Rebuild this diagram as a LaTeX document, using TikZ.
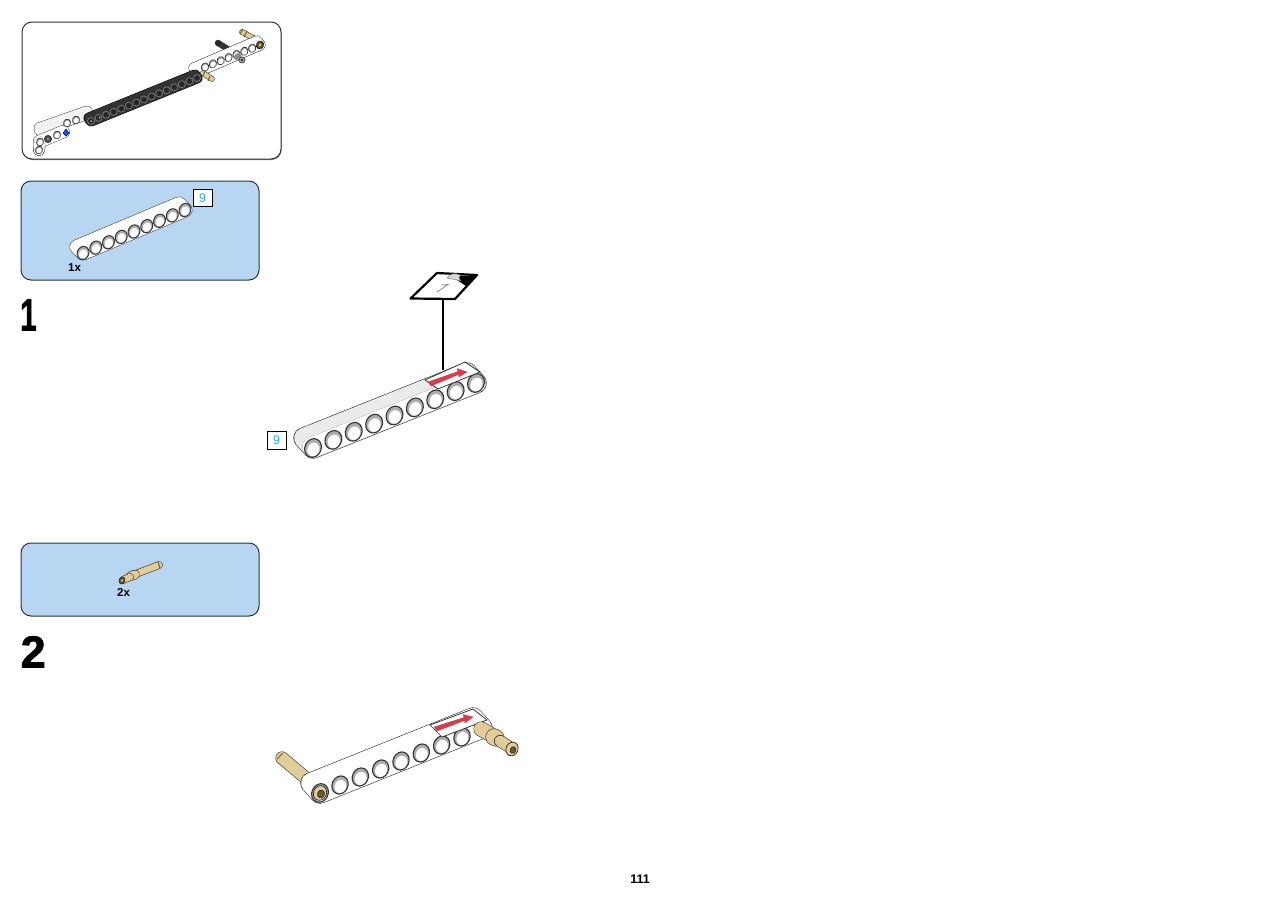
\documentclass[tikz,border=0pt]{standalone}
\usepackage{fontspec}
\setmainfont{Liberation Sans}
\newfontfamily\heavyfont[UprightFont=* Bold,FakeBold=1.5]{Liberation Sans}
\usetikzlibrary{calc}
\definecolor{panelblue}{HTML}{B8D6F2}
\definecolor{bordercol}{HTML}{2B3440}
\definecolor{cyantext}{HTML}{29ABE2}
\definecolor{tanpin}{HTML}{E2CC98}
\definecolor{tandark}{HTML}{6E5A2E}
\definecolor{redarrow}{HTML}{F03242}
\tikzset{
  panel/.style={rounded corners=10pt,draw=bordercol,line width=1pt},
  stepnum/.style={font=\fontsize{45}{45}\heavyfont,inner sep=0pt,anchor=base west},
  countlabel/.style={font=\fontsize{11.5}{11.5}\selectfont\bfseries,inner sep=0pt},
  lenbox/.style={draw=black,line width=.9pt,fill=white,minimum width=19pt,minimum height=17.5pt,inner sep=0pt,text=cyantext,font=\fontsize{12.5}{12.5}\selectfont},
}
% hull of a beam: ax ay bx by dx dy r face edge width
\newcommand{\beamhull}[9]{%
  \pgfmathsetmacro{\lwo}{2*#7+#9}\pgfmathsetmacro{\lwi}{2*#7}%
  \draw[draw=black!85,fill=black!85,line width=\lwo pt,line join=round] (#1,#2) -- (#3,#4) -- ({#3+#5},{#4+#6}) -- ({#1+#5},{#2+#6}) -- cycle;
  \draw[draw=#8,fill=#8,line width=\lwi pt,line join=round] (#1,#2) -- (#3,#4) -- ({#3+#5},{#4+#6}) -- ({#1+#5},{#2+#6}) -- cycle;
}
% round hole: x y r ring-line
\newcommand{\hole}[4]{%
  \begin{scope}[shift={(#1,#2)},rotate=-25]
    \draw[draw=black!80,fill=black!32,line width=#4pt] (0,0) ellipse [x radius=#3*.85,y radius=#3];
    \fill[white] (#3*.1,#3*.12) ellipse [x radius=#3*.62,y radius=#3*.72];
  \end{scope}}
% row of holes: ax ay bx by n r ring-line
\newcommand{\holerow}[7]{%
  \foreach \i in {1,...,#5}{%
    \pgfmathsetmacro{\hx}{#1+(#3-#1)*(\i-1)/(#5-1)}%
    \pgfmathsetmacro{\hy}{#2+(#4-#2)*(\i-1)/(#5-1)}%
    \hole{\hx}{\hy}{#6}{#7}}}
% tan cylinder segment: ax ay bx by width
\newcommand{\cyl}[5]{%
  \draw[black!85,line width=#5pt+1.1pt,line cap=round] (#1,#2) -- (#3,#4);
  \draw[tanpin,line width=#5pt,line cap=round] (#1,#2) -- (#3,#4);}
% rotated ellipse: x y rx ry angle fill
\newcommand{\rell}[6]{%
  \draw[black!85,line width=.7pt,fill=#6,rotate around={#5:(#1,#2)}] (#1,#2) ellipse [x radius=#3,y radius=#4];}
\begin{document}
\begin{tikzpicture}[x=1pt,y=-1pt]
\useasboundingbox (0,0) rectangle (1280,905);
\fill[white] (0,0) rectangle (1280,905);

% ---- overview panel
\fill[black!50,rounded corners=10pt] (22.5,24) rectangle (281.5,160);
\draw[panel,fill=white] (22,22) rectangle (281,159);
% axle, pin behind top-right beam
\draw[black!80,line width=6pt] (218,43) -- (236,54);
\fill[black!85] (218,43) circle (3.2);
\cyl{242}{32}{257}{40}{4.5}
\draw[tandark,line width=1pt] (243,29) -- (240,34) (247,31) -- (244,37);
% top-right white beam
\beamhull{197}{72}{260}{45}{-3}{-4}{5}{white}{1}
\holerow{205}{67}{260}{45}{8}{4.2}{.7}
\rell{260}{45}{3}{3.8}{-25}{tandark}
\fill[tanpin] (260,45) circle (1.4);
\fill[black!45] (238,57) circle (3.8);
\draw[black!70,fill=black!35,line width=.8pt] (242,60) circle (3);
\draw[black!80,fill=black!60] (242,60) circle (1);
% back left beam
\beamhull{40}{131}{88}{114}{-1}{-3}{5}{white!95!black}{.8}
% front left beam
\beamhull{40}{142}{39}{150}{0}{0}{5.5}{white}{.8}
\beamhull{40}{142}{64}{132}{-1}{-1}{5.5}{white}{.8}
\beamhull{39}{147}{40}{142}{0}{0}{5.5}{white}{0}
\hole{67}{123}{4}{.7}
\hole{76}{120}{4}{.7}
\hole{40}{142}{4}{.7}
\hole{39}{150}{4}{.7}
\draw[black!80,fill=black!70,line width=.7pt] (48,139) circle (3.6);
\fill[black!25] (48,139) circle (1);
\hole{57}{135}{4}{.7}
\draw[blue!60!black,fill=blue!65!cyan,line width=.5pt] (63,133) -- (66,129) -- (69,133) -- (66,136) -- cycle;
% dark beam
\draw[black,fill=black,line join=round,line width=11pt] (91,121) -- (197,78) -- (195,75) -- (89,118) -- cycle;
\draw[black!80,fill=black!80,line join=round,line width=10pt] (91,121) -- (197,78) -- (195,75) -- (89,118) -- cycle;
\foreach \i in {1,...,15}{%
  \pgfmathsetmacro{\hx}{91+106*(\i-1)/14}\pgfmathsetmacro{\hy}{121-43*(\i-1)/14}
  \draw[black!50,fill=black!85,line width=.7pt] (\hx,\hy) circle (3.5);}
\fill[white!70!black] (91,121) circle (1);
\fill[white!70!black] (99.5,117.5) circle (1);
\cyl{203}{73}{212}{79}{4.5}
\draw[tandark,line width=1pt] (205,71) -- (203,76) (210,76) -- (208,81);

% ---- parts panel 1
\draw[panel,fill=panelblue] (21,181) rectangle (259,280);
\beamhull{83}{253}{185}{210}{-6}{-6}{7}{white}{.9}
\holerow{83}{253}{185}{210}{9}{6.8}{1}
\node[lenbox] (lenpanel) at (202.5,198) {9};
\node[countlabel,anchor=base west] (countone) at (68,271) {1x};
\node[stepnum,xscale=.66] (stepone) at (20,330.5) {1};

% ---- step 1 assembly
\beamhull{313}{448}{476}{383}{-9}{-10}{10}{white!92!black}{1.1}
\beamhull{313}{448}{476}{383}{-1}{-1}{9.8}{white}{0}
\holerow{313}{448}{476}{383}{9}{9.6}{1.1}
\node[lenbox] (lenstep) at (276.5,440.5) {9};
\coordinate (calloutfoot) at (443,299);
\coordinate (beamtop) at (443,370);
\draw[black,line width=1.2pt] (calloutfoot) -- (beamtop);
\draw[black!85,line width=.7pt,fill=white] (425,380) -- (465,362) -- (480,372) -- (438,389) -- cycle;
\draw[black!60,line width=.3pt,fill=redarrow] (428,382) -- (458,371.5) -- (457,368.5) -- (467,372) -- (459,377) -- (458.5,374.5) -- (431,386) -- cycle;
% callout
\draw[black,line width=2.2pt,line join=round,fill=white] (410.5,298.5) -- (437,273) -- (477,275) -- (455,299) -- cycle;
\fill[black] (461,275.5) -- (476,275.5) -- (466,286) -- (457,280) -- cycle;
\draw[black!50,line width=.5pt,fill=black!15] (447,278) .. controls (450,273) and (456,273) .. (460,275) .. controls (458,278) and (460,280) .. (461,281) .. controls (455,279) and (450,279) .. (447,278) -- cycle;
\draw[black!50,line width=.7pt] (437,292) -- (448,284.5) -- (441,285);

% ---- parts panel 2
\draw[panel,fill=panelblue] (21,543) rectangle (259,616);
\cyl{137}{573.5}{159}{565}{6.5}
\cyl{131}{576}{135}{574.5}{8.5}
\cyl{123}{580}{130}{577}{6.5}
\rell{122}{580.5}{2.8}{3.6}{-25}{tandark}
\fill[tanpin] (122,580.5) circle (1.2);
\draw[tandark,line width=1pt] (158,562) -- (160,568);
\node[countlabel,anchor=base west] (counttwo) at (117,596) {2x};
\node[stepnum] (steptwo) at (20.5,667.5) {2};

% ---- step 2 assembly
\cyl{307}{779}{282}{758}{12}
\draw[tandark,line width=1pt] (277,759) -- (283,753);
\beamhull{320}{793}{482}{728}{-9}{-10}{10}{white}{1.1}
\holerow{340}{785}{462}{737}{7}{9.3}{1.1}
\hole{320}{793}{9.6}{1.1}
\rell{320}{793}{6.5}{7.5}{-25}{tanpin}
\rell{321}{794}{3.4}{4}{-25}{tandark}
\draw[black!85,line width=.7pt,fill=white] (430,725) -- (473,709) -- (487,720) -- (442,737) -- cycle;
\draw[black!60,line width=.3pt,fill=redarrow] (434,727) -- (464,717.5) -- (463,714.5) -- (473,717) -- (465,723) -- (464.5,720.5) -- (437,731) -- cycle;
\cyl{481}{729}{490}{734}{14}
\cyl{494}{737}{496}{738}{16}
\cyl{500}{741}{508}{746}{11}
\rell{512}{749}{6}{7}{-25}{tanpin}
\rell{513}{750}{2.8}{3.4}{-25}{tandark}

\node[font=\fontsize{12.5}{12.5}\selectfont\bfseries,inner sep=0pt] (pagenum) at (640,879) {111};
\end{tikzpicture}
\end{document}
